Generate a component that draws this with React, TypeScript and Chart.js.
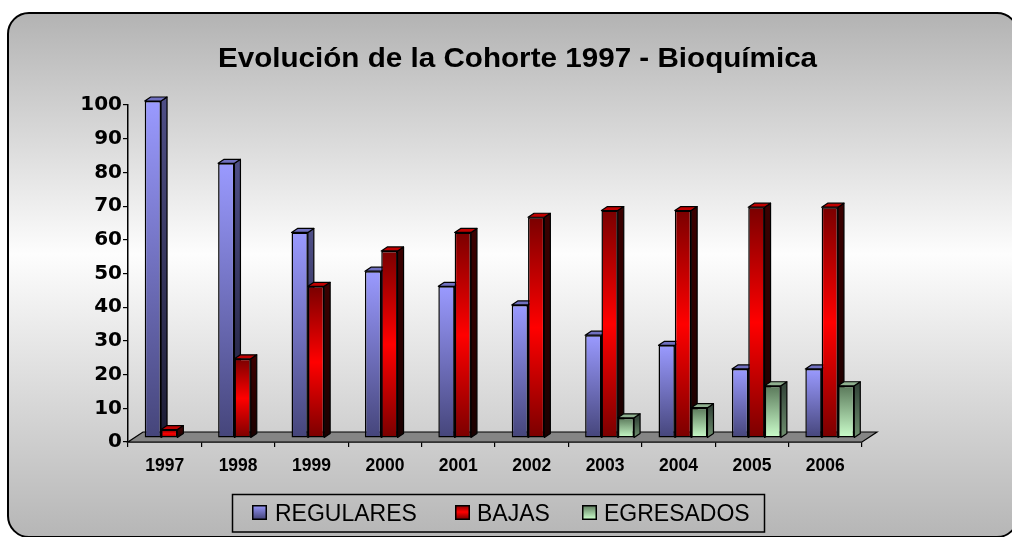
import React, { useEffect, useRef } from "react";
import { Chart, registerables } from "chart.js";

Chart.register(...registerables);

// ---------- data ----------
const TITLE = "Evolución de la Cohorte 1997 - Bioquímica";
const YEARS = ["1997", "1998", "1999", "2000", "2001", "2002", "2003", "2004", "2005", "2006"];
const SERIES_NAMES = ["REGULARES", "BAJAS", "EGRESADOS"];
const REGULARES = [100, 81.5, 61, 49.5, 45, 39.5, 30.5, 27.5, 20.5, 20.5];
const BAJAS = [2.5, 23.5, 45, 55.5, 61, 65.5, 67.5, 67.5, 68.5, 68.5];
const EGRESADOS = [null, null, null, null, null, null, 6, 9, 15.5, 15.5];
const Y_MIN = 0;
const Y_MAX = 100;
const Y_STEP = 10;

// ---------- styles ----------
const FRONT_STOPS: [number, string][][] = [
  [[0, "#9a9aff"], [1, "#45457a"]],
  [[0, "#7a0000"], [0.5, "#ff0000"], [1, "#7a0000"]],
  [[0, "#5a785a"], [1, "#ccffcc"]],
];
const SIDE_STOPS: [number, string][][] = [
  [[0, "#4e4e86"], [1, "#1c1c34"]],
  [[0, "#3a0000"], [1, "#1a0000"]],
  [[0, "#34463a"], [1, "#6e8e6e"]],
];
const TOP_FILL = ["#7070c0", "#c00000", "#8fb08f"];
const LEGEND_SWATCH_X = [252, 455, 582];
const LEGEND_TEXT_X = [275, 477, 604];

const BAR_DX = 4.5; // front-face shift into the depth of the floor
const BAR_DY = -4;
const DEPTH_DX = 6; // bar depth
const DEPTH_DY = -4;
const FLOOR_DX = 15;
const FLOOR_DY = -10;

function grad(ctx: CanvasRenderingContext2D, stops: [number, string][], y1: number, y2: number): any {
  if (!isFinite(y1) || !isFinite(y2)) return stops[0][1];
  if (y1 === y2) y2 = y1 + 1;
  const g = ctx.createLinearGradient(0, y1, 0, y2);
  stops.forEach(([o, c]) => g.addColorStop(o, c));
  return g;
}

const frontColor = (si: number) => (c: any) => {
  const chart = c.chart;
  const ys = chart.scales && chart.scales.y;
  if (!ys || c.type !== "data" || c.raw == null) return FRONT_STOPS[si][0][1];
  const top = ys.getPixelForValue(c.raw);
  const base = ys.getPixelForValue(0);
  return grad(chart.ctx, FRONT_STOPS[si], top, base);
};

const threeD = {
  id: "threeD",
  beforeDatasetsDraw(chart: any) {
    const { ctx, chartArea, scales } = chart;
    const y0 = scales.y.getPixelForValue(0);
    // floor
    ctx.save();
    ctx.beginPath();
    ctx.moveTo(chartArea.left, y0);
    ctx.lineTo(chartArea.right, y0);
    ctx.lineTo(chartArea.right + FLOOR_DX, y0 + FLOOR_DY);
    ctx.lineTo(chartArea.left + FLOOR_DX, y0 + FLOOR_DY);
    ctx.closePath();
    ctx.fillStyle = "#858585";
    ctx.fill();
    ctx.strokeStyle = "#000";
    ctx.lineWidth = 1.2;
    ctx.stroke();
    ctx.restore();

    ctx.save();
    ctx.translate(BAR_DX, BAR_DY);
    chart.data.datasets.forEach((ds: any, i: number) => {
      const meta = chart.getDatasetMeta(i);
      meta.data.forEach((bar: any, j: number) => {
        if (ds.data[j] == null) return;
        const { x, y, base, width } = bar;
        if (![x, y, base, width].every((v) => isFinite(v))) return;
        const l = x - width / 2;
        const r = x + width / 2;
        ctx.lineWidth = 1.2;
        ctx.strokeStyle = "#000";
        ctx.lineJoin = "round";
        // side face
        ctx.beginPath();
        ctx.moveTo(r, y);
        ctx.lineTo(r + DEPTH_DX, y + DEPTH_DY);
        ctx.lineTo(r + DEPTH_DX, base + DEPTH_DY);
        ctx.lineTo(r, base);
        ctx.closePath();
        ctx.fillStyle = grad(ctx, SIDE_STOPS[i], y, base);
        ctx.fill();
        ctx.stroke();
        // top face
        ctx.beginPath();
        ctx.moveTo(l, y);
        ctx.lineTo(l + DEPTH_DX, y + DEPTH_DY);
        ctx.lineTo(r + DEPTH_DX, y + DEPTH_DY);
        ctx.lineTo(r, y);
        ctx.closePath();
        ctx.fillStyle = TOP_FILL[i];
        ctx.fill();
        ctx.stroke();
      });
    });
  },
  afterDatasetsDraw(chart: any) {
    chart.ctx.restore();
  },
  afterDraw(chart: any) {
    const { ctx } = chart;
    // title
    ctx.save();
    ctx.fillStyle = "#000";
    ctx.font = 'bold 28px "Liberation Sans", Arial, sans-serif';
    ctx.textAlign = "center";
    ctx.textBaseline = "alphabetic";
    ctx.translate(517.5, 66.5);
    ctx.scale(1.058, 1);
    ctx.fillText(TITLE, 0, 0);
    ctx.restore();

    // legend
    ctx.save();
    ctx.strokeStyle = "#000";
    ctx.lineWidth = 1.5;
    ctx.strokeRect(232.5, 494.5, 532, 37.5);
    ctx.font = '23px "Liberation Sans", Arial, sans-serif';
    ctx.textBaseline = "alphabetic";
    ctx.textAlign = "left";
    chart.data.datasets.forEach((ds: any, i: number) => {
      const sx = LEGEND_SWATCH_X[i];
      const sy = 505;
      ctx.fillStyle = grad(ctx, FRONT_STOPS[i], sy, sy + 14);
      ctx.fillRect(sx, sy, 14, 14);
      ctx.lineWidth = 1.5;
      ctx.strokeRect(sx + 0.75, sy + 0.75, 13.5, 13.5);
      ctx.fillStyle = "#000";
      ctx.fillText(ds.label, LEGEND_TEXT_X[i], 520.5);
    });
    ctx.restore();
  },
};

export default function App() {
  const ref = useRef<HTMLCanvasElement>(null);
  useEffect(() => {
    if (!ref.current) return;
    const series = [REGULARES, BAJAS, EGRESADOS];
    const chart = new Chart(ref.current, {
      type: "bar",
      data: {
        labels: YEARS,
        datasets: series.map((d, i) => ({
          label: SERIES_NAMES[i],
          data: d as any,
          backgroundColor: frontColor(i) as any,
          borderColor: "#000",
          borderWidth: 1.5,
          borderSkipped: false,
          barPercentage: 1,
          categoryPercentage: 0.667,
          clip: false as any,
        })),
      },
      options: {
        responsive: false,
        maintainAspectRatio: false,
        animation: false,
        events: [],
        layout: { padding: { top: 105, right: 150, bottom: 55, left: 0 } },
        plugins: {
          legend: { display: false },
          title: { display: false },
          tooltip: { enabled: false },
        },
        scales: {
          x: {
            grid: { display: true, offset: true, drawOnChartArea: false, drawTicks: true, tickLength: 5, color: "#000", lineWidth: 1.2 },
            border: { display: true, color: "#000", width: 1.5 },
            ticks: {
              color: "#000",
              padding: 9,
              maxRotation: 0,
              font: { family: '"Liberation Sans", Arial, sans-serif', size: 17.5, weight: "bold" },
            },
            afterFit: (s: any) => {
              s.height = 40;
            },
          },
          y: {
            min: Y_MIN,
            max: Y_MAX,
            grid: { display: true, drawOnChartArea: false, drawTicks: true, tickLength: 5, color: "#000", lineWidth: 1.2 },
            border: { display: true, color: "#000", width: 1.5 },
            ticks: {
              stepSize: Y_STEP,
              color: "#000",
              padding: 1,
              font: { family: '"DejaVu Sans", sans-serif', size: 20, weight: "bold" },
            },
            afterFit: (s: any) => {
              s.width = 128;
            },
          },
        },
      },
      plugins: [threeD],
    });
    return () => chart.destroy();
  }, []);

  return (
    <div style={{ position: "fixed", left: 0, top: 0, width: 1012, height: 537, overflow: "hidden", background: "#fff" }}>
      <div
        style={{
          position: "absolute",
          left: 7,
          top: 12,
          width: 1012,
          height: 526,
          boxSizing: "border-box",
          border: "2px solid #000",
          borderRadius: 22,
          background: "linear-gradient(to bottom, #b3b3b3 0%, #fdfdfd 46%, #b6b6b6 100%)",
        }}
      />
      <canvas ref={ref} width={1012} height={537} style={{ position: "absolute", left: 0, top: 0, display: "block" }} />
    </div>
  );
}
